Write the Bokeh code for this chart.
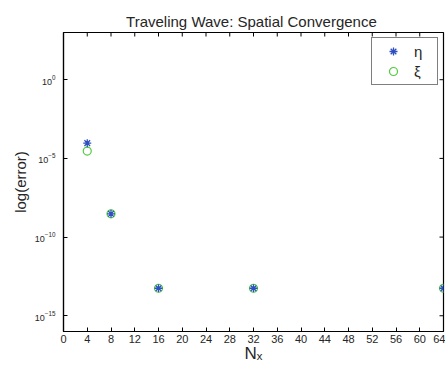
import math
from bokeh.plotting import figure
from bokeh.models import (Legend, LegendItem, FixedTicker, Range1d,
                          ColumnDataSource)
from bokeh.embed import file_html
from bokeh.resources import INLINE

nx = [4, 8, 16, 32, 64]
err_eta = [9.3e-5, 3.0e-9, 5.6e-14, 5.6e-14, 5.6e-14]
err_xi = [2.9e-5, 3.0e-9, 5.6e-14, 5.6e-14, 5.6e-14]
x_ticks = list(range(0, 65, 4))
y_ticks = [1e-15, 1e-10, 1e-5, 1e0]
x_lim = (0, 64)
y_lim = (1e-16, 1e3)

FONT = "Liberation Sans"
TXT = "#262626"

p = figure(width=445, height=365, y_axis_type="log",
           x_range=Range1d(*x_lim), y_range=Range1d(*y_lim),
           output_backend="svg", toolbar_location=None,
           min_border_left=63, min_border_right=2, min_border_top=32,
           min_border_bottom=34)
p.title.text = "Traveling Wave:  Spatial Convergence"
p.title.text_font = FONT
p.title.text_font_size = "15px"
p.title.text_font_style = "normal"
p.title.text_color = TXT
p.title.align = "center"
p.title.standoff = 6
p.grid.visible = False
p.outline_line_color = "black"
p.outline_line_width = 1.2

# inward ticks on the top and right edges (frame-clipped dashes)
p.scatter(x=x_ticks, y=[y_lim[1]] * len(x_ticks), marker="dash",
          angle=math.pi / 2, size=8, line_color="black", line_width=1)
p.scatter(x=[x_lim[1]] * len(y_ticks), y=y_ticks, marker="dash",
          size=8, line_color="black", line_width=1)

src = ColumnDataSource(dict(nx=nx, eta=err_eta, xi=err_xi))
r_xi = p.scatter("nx", "xi", source=src, marker="circle", size=8,
                 fill_color=None, line_color="#4fcc3a", line_width=1.2)
r_eta = p.scatter("nx", "eta", source=src, marker="asterisk", size=8,
                  line_color="#2f4fc0", line_width=1.3)

def style(ax):
    ax.major_tick_in = 4
    ax.major_tick_out = 0
    ax.minor_tick_in = 0
    ax.minor_tick_out = 0
    ax.axis_line_color = "black"
    ax.axis_line_width = 1.2
    ax.major_tick_line_color = "black"
    ax.major_label_text_font = FONT
    ax.major_label_text_color = TXT

xa = p.xaxis[0]
xa.ticker = FixedTicker(ticks=x_ticks)
style(xa)
xa.major_label_text_font_size = "11px"
xa.major_label_standoff = 3
xa.axis_label = "Nₓ"
xa.axis_label_text_font = FONT
xa.axis_label_text_font_size = "17px"
xa.axis_label_text_font_style = "normal"
xa.axis_label_text_color = TXT
xa.axis_label_standoff = -2

ya = p.yaxis[0]
ya.ticker = FixedTicker(ticks=y_ticks)
style(ya)
ya.major_label_text_font_size = "9px"
ya.major_label_standoff = 8
ya.axis_label = "log(error)"
ya.axis_label_text_font = FONT
ya.axis_label_text_font_size = "15px"
ya.axis_label_text_font_style = "normal"
ya.axis_label_text_color = TXT
ya.axis_label_standoff = 3

legend = Legend(items=[LegendItem(label="η", renderers=[r_eta]),
                       LegendItem(label="ξ", renderers=[r_xi])],
                location="top_right", border_line_color="black",
                border_line_width=1.2, padding=3, margin=5, spacing=0,
                glyph_width=36, glyph_height=20, label_standoff=3,
                label_text_font=FONT, label_text_font_size="15px",
                label_text_color=TXT, background_fill_alpha=1)
p.add_layout(legend)

open("out.html", "w").write(file_html(p, INLINE))
